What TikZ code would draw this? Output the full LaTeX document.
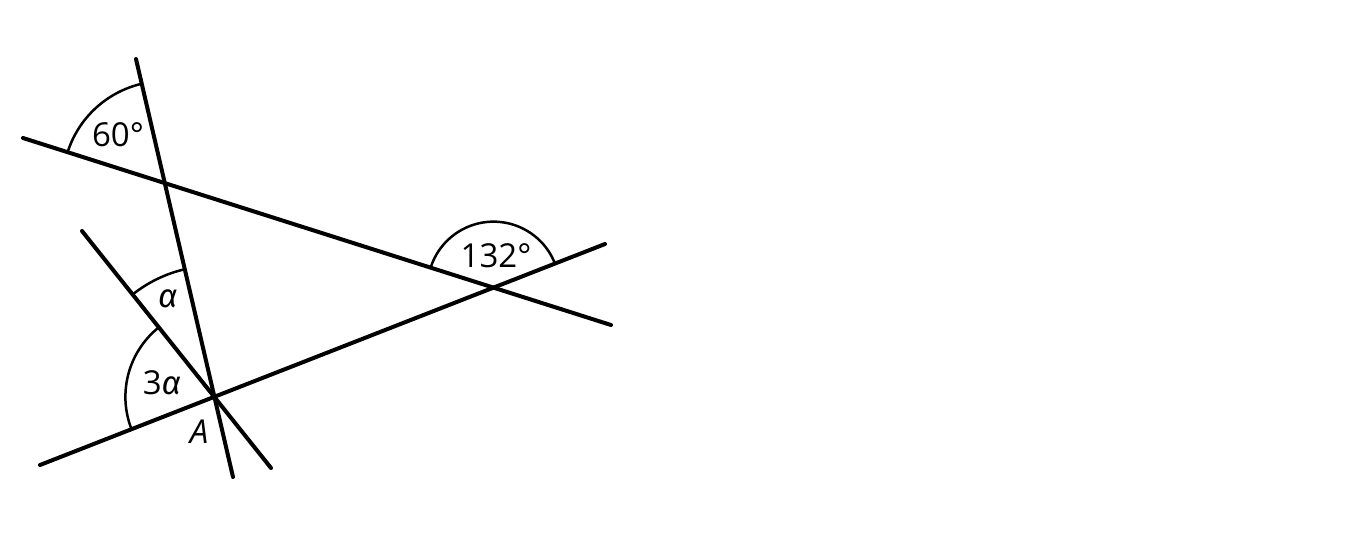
\documentclass[tikz,border=0pt]{standalone}
\usepackage{fontspec}
\setmainfont{Open Sans}
\newfontfamily\grk{Fira Sans}
\begin{document}
\begin{tikzpicture}[x=1pt,y=-1pt,
  ln/.style={line width=4pt,line cap=round},
  arcl/.style={line width=2.5pt},
  lbl/.style={font=\fontsize{33}{36}\selectfont,inner sep=0pt}]
\useasboundingbox (0,0) rectangle (1372,539);
% line end points
\coordinate (a1) at (136,59);
\coordinate (a2) at (233,477);
\coordinate (b1) at (23,138);
\coordinate (b2) at (611,325);
\coordinate (c1) at (40,465);
\coordinate (c2) at (605,244);
\coordinate (d1) at (82,231);
\coordinate (d2) at (271,468);
\draw[ln] (a1) -- (a2);
\draw[ln] (b1) -- (b2);
\draw[ln] (c1) -- (c2);
\draw[ln] (d1) -- (d2);
\coordinate (P) at (intersection of a1--a2 and b1--b2);
\coordinate (Q) at (intersection of b1--b2 and c1--c2);
\coordinate (A) at (intersection of a1--a2 and c1--c2);
% arcs (angles measured with y downward, so negate)
\draw[arcl] ([shift={(-103.2:102)}]P) arc[start angle=-103.2,end angle=-162.4,radius=102];
\draw[arcl] ([shift={(-21.4:66)}]Q) arc[start angle=-21.4,end angle=-162.4,radius=66];
\draw[arcl] ([shift={(-103.2:131)}]A) arc[start angle=-103.2,end angle=-128.7,radius=131];
\draw[arcl] ([shift={(-128.7:89)}]A) arc[start angle=-128.7,end angle=-201.2,radius=89];
% labels
\node[lbl] (l60) at (118,135) {60°};
\node[lbl] (l132) at (496,256) {132°};
\node[lbl] (lal) at (168,299) {{\grk\itshape α}};
\node[lbl] (l3a) at (162,383) {3{\grk\itshape α}};
\node[lbl] (lA) at (199,432) {\textit{A}};
\end{tikzpicture}
\end{document}
